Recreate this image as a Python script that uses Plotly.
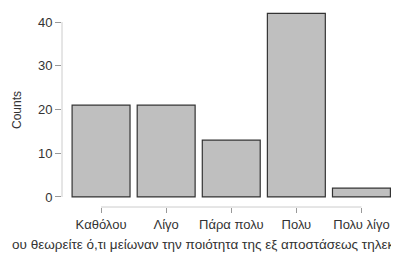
import plotly.graph_objects as go

CATEGORIES = ["Καθόλου", "Λίγο", "Πάρα πολυ", "Πολυ", "Πολυ λίγο"]
COUNTS = [21, 21, 13, 42, 2]
Y_TICKS = [0, 10, 20, 30, 40]
X_TITLE = "ου θεωρείτε ό,τι μείωναν την ποιότητα της εξ αποστάσεως τηλεκ"
Y_TITLE = "Counts"

FONT = "Liberation Sans, Arial, sans-serif"

fig = go.Figure(
    go.Bar(
        x=CATEGORIES,
        y=COUNTS,
        marker=dict(color="#bfbfbf", line=dict(color="#333333", width=1.2)),
    )
)

# the page body has an 8px margin, so the figure is sized to fit inside it
OFF = 8
W, H = 399 - OFF, 259 - OFF
L, R, T, B = 62 - OFF, 5, 9 - OFF, 52
pw, ph = W - L - R, H - T - B

def px_x(page_x):
    return (page_x - OFF - L) / pw

def px_y(page_y):
    return (H - B - (page_y - OFF)) / ph

fig.update_layout(
    width=W,
    height=H,
    margin=dict(l=L, r=R, t=T, b=B, pad=0),
    plot_bgcolor="white",
    paper_bgcolor="white",
    bargap=0.11,
    showlegend=False,
    font=dict(family=FONT, size=13, color="#333333"),
)

fig.update_xaxes(
    type="category",
    range=[-0.6, 4.5],
    showgrid=False,
    zeroline=False,
    showline=False,
    ticks="outside",
    ticklen=5,
    tickwidth=1,
    tickcolor="#999999",
    tickfont=dict(family=FONT, size=13, color="#333333"),
)

fig.update_yaxes(
    range=[-2.3, 43],
    tickvals=Y_TICKS,
    showgrid=False,
    zeroline=False,
    showline=False,
    ticks="outside",
    ticklen=6,
    tickwidth=1,
    tickcolor="#999999",
    tickfont=dict(family=FONT, size=13, color="#333333"),
)

# JASP-style axis lines spanning from first to last tick
fig.add_shape(
    type="line", xref="paper", yref="y",
    x0=0, x1=0, y0=min(Y_TICKS), y1=max(Y_TICKS),
    line=dict(color="#cccccc", width=1),
)
fig.add_shape(
    type="line", xref="x", yref="paper",
    x0=CATEGORIES[0], x1=CATEGORIES[-1], y0=0, y1=0,
    line=dict(color="#cccccc", width=1),
)

fig.add_annotation(
    text=X_TITLE, xref="paper", yref="paper",
    x=px_x(203), y=px_y(244),
    xanchor="center", yanchor="middle", showarrow=False,
    font=dict(family=FONT, size=13.5, color="#333333"),
)
fig.add_annotation(
    text=Y_TITLE, xref="paper", yref="paper",
    x=px_x(17), y=px_y(110),
    xanchor="center", yanchor="middle", showarrow=False, textangle=-90,
    font=dict(family=FONT, size=12, color="#333333"),
)

fig.write_html("out.html")
